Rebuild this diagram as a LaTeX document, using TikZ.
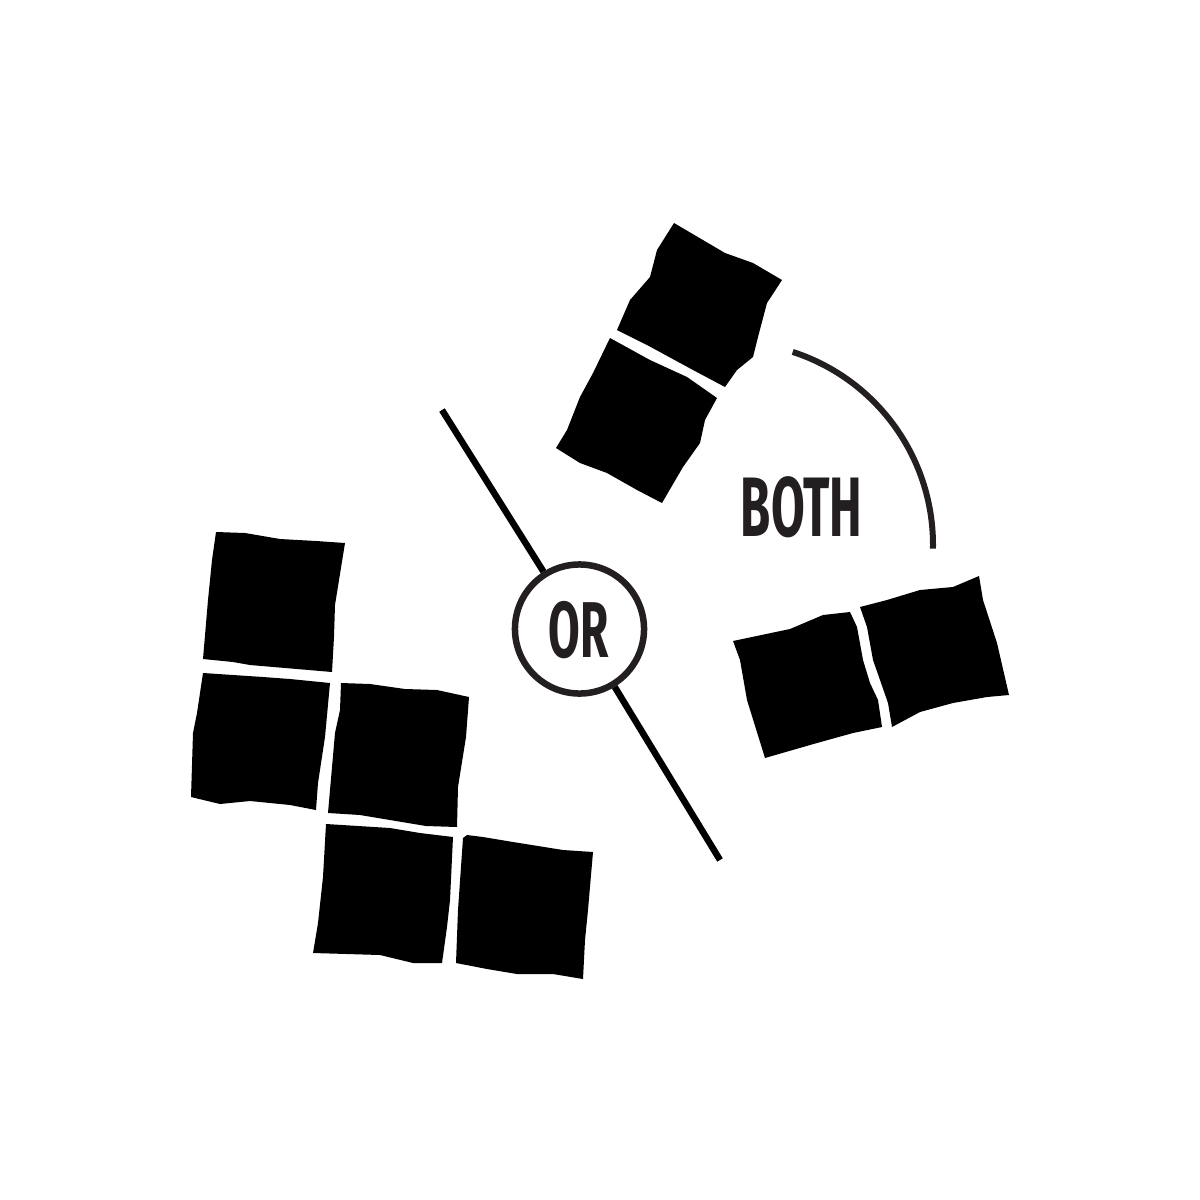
\documentclass[tikz,border=0pt]{standalone}
\usepackage{fontspec}
\usepackage{tikz}
\usetikzlibrary{positioning}
\newfontfamily\labelfont[FakeStretch=0.58]{Fira Sans}

\begin{document}
\begin{tikzpicture}[
        x=0.01cm, y=-0.01cm,
        tile/.style={fill=black},
        word/.style={font=\labelfont\bfseries\fontsize{24}{24}\selectfont,text=ink,inner sep=0pt},
        splitline/.style={line width=0.065cm,black},
        ring/.style={circle,draw=ink,line width=0.065cm,minimum size=1.29cm,inner sep=0pt}
    ]
        \definecolor{ink}{HTML}{231F20}
        \useasboundingbox (0,0) rectangle (1200,1200);

        % left group
        \fill [tile] (216,532) -- (245,533) -- (280,539) -- (316,541) -- (345,543) -- (335,605) -- (334,637) -- (332,672)
                     -- (250,665) -- (233,662) -- (203,659) -- (208,600) -- (212,560) -- cycle;
        \fill [tile] (203,673) -- (263,677) -- (290,679) -- (330,683) -- (325,737) -- (318,783) -- (316,810)
                     -- (290,805) -- (250,801) -- (220,804) -- (191,797) -- (193,733) -- (197,713) -- cycle;
        \fill [tile] (341,683) -- (370,684) -- (405,689) -- (437,690) -- (469,697) -- (466,737) -- (458,787) -- (457,827)
                     -- (426,826) -- (390,820) -- (360,815) -- (328,813) -- (335,733) -- (340,710) -- cycle;
        \fill [tile] (326,824) -- (390,828) -- (420,833) -- (453,837) -- (450,900) -- (447,927) -- (442,963)
                     -- (413,963) -- (380,955) -- (313,953) -- (318,923) -- (323,877) -- cycle;
        \fill [tile] (467,835) -- (483,837) -- (513,842) -- (563,850) -- (593,852) -- (588,910) -- (585,940) -- (583,979)
                     -- (553,974) -- (517,974) -- (487,969) -- (456,963) -- (458,910) -- (463,838) -- cycle;

        % top pair
        \fill [tile] (674,223) -- (725,253) -- (753,263) -- (782,280) -- (767,303) -- (758,337) -- (753,357) -- (737,370)
                     -- (725,387) -- (693,370) -- (647,345) -- (617,330) -- (630,300) -- (650,277) -- (657,250) -- cycle;
        \fill [tile] (610,338) -- (650,360) -- (687,377) -- (717,398) -- (705,420) -- (700,443) -- (683,467) -- (662,503)
                     -- (637,490) -- (607,473) -- (580,463) -- (556,448) -- (567,430) -- (580,397) -- (593,373) -- cycle;

        % right pair
        \fill [tile] (733,641) -- (790,629) -- (823,615) -- (850,612) -- (857,627) -- (863,660) -- (870,683) -- (878,700)
                     -- (882,727) -- (853,733) -- (817,743) -- (765,758) -- (747,700) -- (740,660) -- cycle;
        \fill [tile] (860,607) -- (887,600) -- (920,590) -- (953,587) -- (979,576) -- (983,600) -- (997,643) -- (1009,695)
                     -- (987,697) -- (953,703) -- (920,712) -- (892,727) -- (888,703) -- (880,680) -- (873,660) -- (867,627) -- cycle;

        % or
        \node (or) [ring] at (579.5,629) {};
        \node (ortext) [word,font=\labelfont\bfseries\fontsize{22.5}{22.5}\selectfont] at (579,630) {OR};
        \coordinate (uptop) at (442,410);
        \coordinate (downend) at (720,860);
        \draw [splitline] (uptop) -- (or);
        \draw [splitline] (or) -- (downend);

        % both
        \node (both) [word] at (801.5,507.5) {BOTH};
        \draw [ink,line width=0.06cm] (730,545) ++(-72:203) arc[start angle=-72,end angle=1,radius=203];
\end{tikzpicture}
\end{document}
